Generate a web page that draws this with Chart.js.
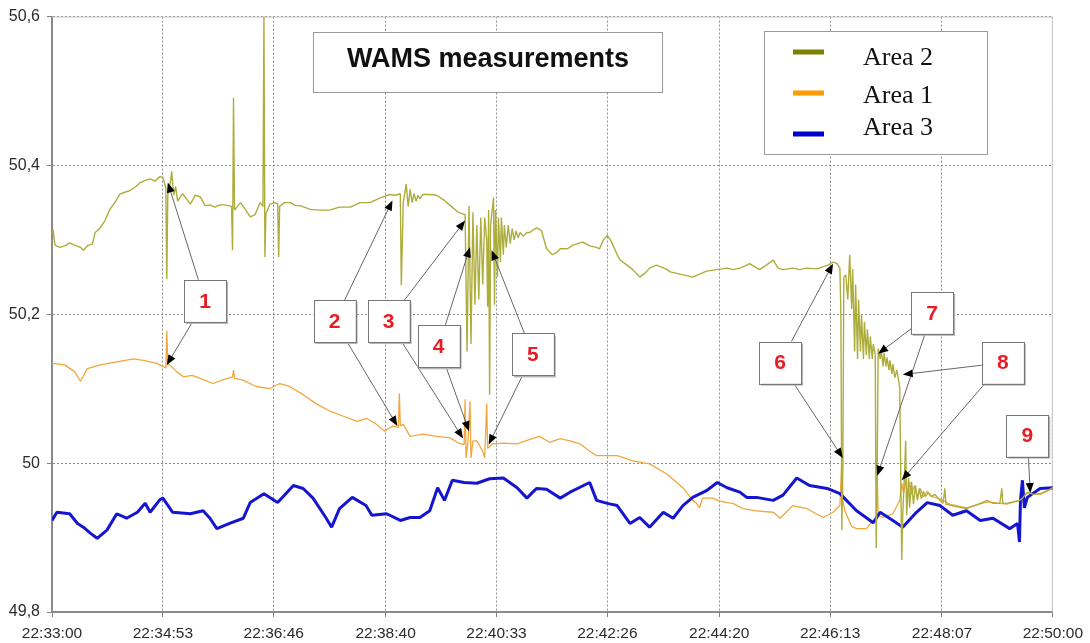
<!DOCTYPE html>
<html>
<head>
<meta charset="utf-8">
<title>WAMS measurements</title>
<script src="https://cdn.jsdelivr.net/npm/chart.js@4.4.1/dist/chart.umd.min.js"></script>
<style>
  html, body { margin: 0; padding: 0; background: #fff; }
  #wrap { width: 1090px; height: 643px; }
</style>
</head>
<body>
<div id="wrap"><canvas id="chart" width="1090" height="643"></canvas></div>
<script>
// Axis labels
const xTickLabels = ['22:33:00', '22:34:53', '22:36:46', '22:38:40', '22:40:33',
                     '22:42:26', '22:44:20', '22:46:13', '22:48:07', '22:50:00'];
const yTickValues = [49.8, 50, 50.2, 50.4, 50.6];
const yTickLabels = ['49,8', '50', '50,2', '50,4', '50,6'];

const seriesNames = ['Area 2', 'Area 1', 'Area 3'];
const lineColors = ['#adad3c', '#f2a63c', '#1515d0'];
const legendColors = ['#7f7f00', '#ff9a00', '#0000cc'];

// Samples: [seconds after 22:33:00, frequency in Hz]
const area2 = [
  [0,50.308],[1,50.314],[3,50.293],[8,50.290],[13,50.292],[18,50.296],[23,50.293],[29,50.290],
  [32,50.286],[37,50.293],[41,50.294],[44,50.310],[49,50.316],[54,50.326],[59,50.341],[64,50.350],
  [69,50.361],[74,50.364],[79,50.366],[85,50.371],[90,50.377],[95,50.380],[100,50.382],[105,50.379],
  [110,50.385],[113,50.384],[116,50.370],[117,50.247],[118,50.360],[121,50.380],[122,50.392],[124,50.360],
  [126,50.372],[128,50.352],[130,50.356],[133,50.362],[136,50.357],[141,50.348],[146,50.360],[151,50.358],
  [156,50.346],[161,50.347],[166,50.344],[171,50.347],[176,50.347],[183,50.345],[184,50.286],[185,50.491],
  [186,50.340],[192,50.350],[197,50.341],[202,50.331],[207,50.334],[212,50.350],[215,50.345],[216,50.600],
  [217,50.277],[218,50.335],[222,50.348],[227,50.350],[230,50.348],[231,50.277],[232,50.345],[237,50.350],
  [243,50.350],[248,50.346],[253,50.346],[263,50.341],[273,50.340],[283,50.340],[293,50.344],[304,50.344],
  [314,50.350],[324,50.350],[334,50.356],[344,50.361],[350,50.360],[355,50.362],[356,50.239],[358,50.350],
  [361,50.375],[363,50.345],[365,50.368],[367,50.350],[369,50.362],[371,50.352],[373,50.360],[375,50.355],
  [378,50.361],[385,50.361],[392,50.360],[400,50.353],[406,50.346],[414,50.337],[421,50.334],[423,50.150],
  [425,50.346],[427,50.160],[429,50.337],[431,50.213],[433,50.320],[435,50.220],[437,50.330],[439,50.240],
  [441,50.330],[443,50.300],[444,50.210],[445,50.340],[446,50.092],[447,50.320],[450,50.357],[451,50.213],
  [452,50.340],[454,50.250],[455,50.330],[457,50.270],[458,50.330],[460,50.280],[461,50.320],[463,50.290],
  [465,50.320],[467,50.295],[469,50.315],[471,50.300],[473,50.312],[475,50.303],[477,50.310],[480,50.305],
  [484,50.310],[487,50.310],[490,50.313],[494,50.316],[497,50.314],[499,50.312],[504,50.288],[507,50.284],
  [510,50.280],[515,50.284],[518,50.288],[525,50.288],[531,50.293],[538,50.296],[541,50.297],[548,50.292],
  [555,50.290],[558,50.288],[562,50.300],[566,50.306],[570,50.298],[576,50.280],[579,50.273],[586,50.266],
  [592,50.260],[599,50.250],[605,50.256],[609,50.262],[616,50.266],[620,50.264],[627,50.260],[630,50.257],
  [640,50.254],[647,50.252],[653,50.250],[660,50.254],[667,50.258],[678,50.260],[688,50.262],[694,50.260],
  [701,50.262],[708,50.266],[711,50.268],[721,50.260],[728,50.266],[735,50.273],[740,50.262],[745,50.260],
  [755,50.262],[762,50.260],[769,50.262],[780,50.261],[786,50.264],[791,50.266],[796,50.270],[800,50.268],
  [803,50.262],[804,50.200],[805,49.910],[806,50.000],[807,50.250],[809,50.253],[811,50.220],[813,50.280],
  [815,50.207],[816,50.261],[818,50.150],[819,50.240],[821,50.140],[822,50.220],[824,50.150],[825,50.200],
  [827,50.140],[828,50.190],[830,50.145],[831,50.180],[833,50.140],[834,50.170],[836,50.140],[837,50.160],
  [839,50.146],[840,49.886],[841,50.000],[842,50.154],[844,50.140],[845,50.152],[847,50.130],[848,50.148],
  [850,50.130],[851,50.142],[853,50.125],[854,50.138],[856,50.120],[857,50.133],[859,50.115],[861,50.125],
  [863,50.110],[864,50.100],[866,49.870],[867,49.930],[869,49.990],[870,50.030],[871,49.930],[873,49.980],
  [874,49.940],[876,49.975],[878,49.945],[880,49.970],[882,49.950],[884,49.966],[886,49.952],[888,49.962],
  [890,49.955],[893,49.960],[896,49.955],[900,49.958],[905,49.950],[908,49.946],[910,49.966],[911,49.945],
  [920,49.942],[932,49.939],[940,49.943],[946,49.946],[953,49.950],[959,49.946],[966,49.946],[968,49.966],
  [969,49.946],[973,49.946],[986,49.950],[989,49.953],[994,49.961],[1000,49.958],[1007,49.959],[1013,49.962],
  [1020,49.967]
];

const area1 = [
  [0,50.134],[13,50.132],[23,50.123],[29,50.110],[36,50.127],[49,50.132],[66,50.136],[83,50.140],
  [93,50.138],[107,50.134],[113,50.130],[116,50.128],[117,50.178],[118,50.132],[120,50.132],[127,50.123],
  [134,50.116],[143,50.118],[151,50.114],[164,50.107],[174,50.112],[184,50.116],[185,50.125],[186,50.114],
  [194,50.112],[208,50.103],[222,50.100],[232,50.107],[242,50.103],[256,50.092],[269,50.080],[283,50.070],
  [297,50.063],[311,50.056],[321,50.060],[331,50.052],[339,50.043],[347,50.050],[353,50.048],[354,50.094],
  [355,50.050],[358,50.052],[365,50.036],[378,50.039],[392,50.036],[406,50.034],[414,50.027],[420,50.025],
  [421,50.086],[422,50.007],[424,50.030],[426,50.083],[427,50.007],[429,50.030],[433,50.030],[439,50.016],
  [441,50.007],[443,50.080],[444,50.020],[449,50.026],[460,50.027],[474,50.026],[487,50.032],[497,50.036],
  [507,50.028],[518,50.033],[528,50.030],[538,50.026],[548,50.016],[555,50.010],[566,50.010],[576,50.010],
  [592,50.003],[609,49.999],[627,49.985],[643,49.967],[653,49.950],[657,49.946],[660,49.940],[663,49.953],
  [674,49.953],[678,49.950],[688,49.947],[694,49.946],[704,49.939],[718,49.936],[735,49.934],[742,49.926],
  [755,49.943],[769,49.939],[786,49.927],[796,49.934],[803,49.943],[805,50.005],[806,49.950],[808,49.936],
  [815,49.915],[820,49.912],[830,49.912],[837,49.923],[840,49.925],[841,49.985],[842,49.930],[847,49.927],
  [857,49.932],[864,49.950],[866,49.973],[868,49.960],[870,49.978],[872,49.955],[874,49.975],[876,49.958],
  [879,49.970],[882,49.955],[885,49.966],[888,49.955],[892,49.962],[897,49.955],[905,49.952],[915,49.945],
  [932,49.940],[953,49.948],[973,49.945],[986,49.950],[994,49.960],[1007,49.958],[1020,49.966]
];

const area3 = [
  [0,49.923],[5,49.934],[18,49.932],[26,49.919],[32,49.914],[39,49.906],[46,49.899],[56,49.910],
  [66,49.932],[76,49.926],[87,49.934],[95,49.946],[100,49.934],[110,49.951],[113,49.953],[123,49.934],
  [141,49.932],[154,49.936],[161,49.926],[168,49.912],[181,49.919],[195,49.926],[202,49.947],[216,49.959],
  [230,49.947],[246,49.970],[256,49.966],[266,49.953],[279,49.927],[285,49.914],[293,49.939],[306,49.954],
  [320,49.943],[326,49.930],[341,49.932],[355,49.923],[365,49.927],[375,49.927],[385,49.936],[393,49.967],
  [400,49.950],[408,49.977],[420,49.974],[433,49.973],[446,49.979],[460,49.980],[474,49.967],[484,49.953],
  [490,49.961],[494,49.966],[504,49.965],[518,49.953],[528,49.961],[548,49.974],[555,49.950],[566,49.946],
  [576,49.943],[589,49.919],[599,49.927],[609,49.914],[623,49.934],[633,49.926],[643,49.943],[653,49.954],
  [667,49.963],[678,49.974],[688,49.967],[701,49.961],[708,49.954],[718,49.954],[735,49.950],[745,49.957],
  [759,49.980],[772,49.970],[790,49.966],[803,49.959],[820,49.936],[837,49.920],[844,49.934],[857,49.923],
  [867,49.914],[881,49.934],[892,49.947],[905,49.943],[918,49.930],[932,49.936],[946,49.923],[959,49.926],
  [976,49.912],[984,49.919],[986,49.894],[987,49.950],[989,49.977],[991,49.940],[994,49.954],[1007,49.966],
  [1020,49.967]
];

// Numbered callouts: box centre and arrow tips, in [seconds, Hz]
const callouts = [
  { text: '1', box: [156, 50.218], tips: [[118, 50.377], [117, 50.132]] },
  { text: '2', box: [288, 50.191], tips: [[347, 50.353], [352, 50.050]] },
  { text: '3', box: [343, 50.191], tips: [[421, 50.326], [419, 50.033]] },
  { text: '4', box: [394, 50.157], tips: [[426, 50.290], [425, 50.043]] },
  { text: '5', box: [490, 50.146], tips: [[448, 50.286], [445, 50.025]] },
  { text: '6', box: [742, 50.135], tips: [[796, 50.268], [806, 50.007]] },
  { text: '7', box: [897, 50.202], tips: [[842, 50.147], [841, 49.983]] },
  { text: '8', box: [969, 50.135], tips: [[867, 50.119], [866, 49.977]] },
  { text: '9', box: [994, 50.037], tips: [[997, 49.960]] }
];

function toSeconds(label) {
    const parts = label.split(':').map(Number);
    return parts[0] * 3600 + parts[1] * 60 + parts[2];
}
const startSec = toSeconds(xTickLabels[0]);
const endSec = toSeconds(xTickLabels[xTickLabels.length - 1]) - startSec;

function toPoints(rows) {
    return rows.map(r => ({ x: r[0], y: r[1] }));
}

// Frame, title box, legend and callouts
const overlayPlugin = {
    id: 'overlay',
    beforeDatasetsDraw(chart) {
        const { ctx, chartArea: a } = chart;
        ctx.save();
        ctx.strokeStyle = '#c9c9c9';
        ctx.lineWidth = 1;
        ctx.beginPath();
        ctx.moveTo(a.left, a.top + 0.5);
        ctx.lineTo(a.right - 0.5, a.top + 0.5);
        ctx.lineTo(a.right - 0.5, a.bottom);
        ctx.stroke();
        ctx.restore();
    },
    afterDatasetsDraw(chart) {
        const { ctx } = chart;
        const xs = chart.scales.x, ys = chart.scales.y;
        ctx.save();

        // title box
        ctx.fillStyle = '#fff';
        ctx.strokeStyle = '#9a9a9a';
        ctx.lineWidth = 1;
        ctx.fillRect(313, 32, 349, 60);
        ctx.strokeRect(313.5, 32.5, 349, 60);
        ctx.fillStyle = '#111';
        ctx.font = 'bold 27px "Liberation Sans", Arial, sans-serif';
        ctx.textAlign = 'center';
        ctx.textBaseline = 'alphabetic';
        ctx.fillText('WAMS measurements', 488, 67);

        // legend box
        ctx.fillStyle = '#fff';
        ctx.fillRect(764, 31, 223, 123);
        ctx.strokeRect(764.5, 31.5, 223, 123);
        const swatchY = [52, 93, 134];
        const textY = [65, 103, 135];
        ctx.font = '26px "Liberation Serif", "Times New Roman", serif';
        ctx.textAlign = 'left';
        seriesNames.forEach((name, i) => {
            ctx.fillStyle = legendColors[i];
            ctx.fillRect(793, swatchY[i] - 2.5, 31, 5);
            ctx.fillStyle = '#111';
            ctx.fillText(name, 863, textY[i]);
        });

        // callouts
        const half = 21;
        callouts.forEach(c => {
            const cx = xs.getPixelForValue(c.box[0]);
            const cy = ys.getPixelForValue(c.box[1]);
            c.tips.forEach(tip => {
                const tx = xs.getPixelForValue(tip[0]);
                const ty = ys.getPixelForValue(tip[1]);
                const dx = tx - cx, dy = ty - cy;
                const s = Math.min(half / Math.abs(dx || 1e-6), half / Math.abs(dy || 1e-6));
                const sx = cx + dx * s, sy = cy + dy * s;
                const ang = Math.atan2(ty - sy, tx - sx);
                ctx.strokeStyle = '#666';
                ctx.lineWidth = 1;
                ctx.beginPath();
                ctx.moveTo(sx, sy);
                ctx.lineTo(tx - Math.cos(ang) * 6, ty - Math.sin(ang) * 6);
                ctx.stroke();
                ctx.fillStyle = '#000';
                ctx.beginPath();
                ctx.moveTo(tx, ty);
                ctx.lineTo(tx - Math.cos(ang) * 10 - Math.sin(ang) * 4, ty - Math.sin(ang) * 10 + Math.cos(ang) * 4);
                ctx.lineTo(tx - Math.cos(ang) * 10 + Math.sin(ang) * 4, ty - Math.sin(ang) * 10 - Math.cos(ang) * 4);
                ctx.closePath();
                ctx.fill();
            });
            ctx.fillStyle = '#b5b5b5';
            ctx.fillRect(cx - half + 2, cy - half + 2, half * 2, half * 2);
            ctx.fillStyle = '#fff';
            ctx.fillRect(cx - half, cy - half, half * 2, half * 2);
            ctx.strokeStyle = '#777';
            ctx.strokeRect(Math.round(cx - half) + 0.5, Math.round(cy - half) + 0.5, half * 2, half * 2);
            ctx.fillStyle = '#e81c24';
            ctx.font = 'bold 21px "Liberation Sans", Arial, sans-serif';
            ctx.textAlign = 'center';
            ctx.textBaseline = 'middle';
            ctx.fillText(c.text, cx, cy + 1);
        });
        ctx.restore();
    }
};

const lineDefaults = { pointRadius: 0, tension: 0, fill: false, borderJoinStyle: 'bevel' };

const chart = new Chart(document.getElementById('chart').getContext('2d'), {
    type: 'line',
    data: {
        datasets: [
            Object.assign({ label: seriesNames[0], data: toPoints(area2), borderColor: lineColors[0], borderWidth: 1.4, order: 0 }, lineDefaults),
            Object.assign({ label: seriesNames[1], data: toPoints(area1), borderColor: lineColors[1], borderWidth: 1.3, order: 2 }, lineDefaults),
            Object.assign({ label: seriesNames[2], data: toPoints(area3), borderColor: lineColors[2], borderWidth: 3, order: 1 }, lineDefaults)
        ]
    },
    options: {
        responsive: false,
        animation: false,
        devicePixelRatio: 1,
        layout: { padding: { top: 14, right: 37, bottom: 0, left: 0 } },
        plugins: {
            legend: { display: false },
            tooltip: { enabled: false }
        },
        scales: {
            x: {
                type: 'linear',
                min: 0,
                max: endSec,
                afterBuildTicks: s => { s.ticks = xTickLabels.map(l => ({ value: toSeconds(l) - startSec })); },
                afterFit: s => { s.height = 31; },
                ticks: {
                    autoSkip: false,
                    maxRotation: 0,
                    padding: 7,
                    color: '#2b2b2b',
                    font: { family: '"Liberation Sans", Arial, sans-serif', size: 15.5 },
                    callback: (v, i) => xTickLabels[i]
                },
                grid: { color: '#8c8c8c', lineWidth: 1, tickLength: 5, tickColor: '#808080', tickBorderDash: [] },
                border: { color: '#8a8a8a', width: 2, dash: [2, 2] }
            },
            y: {
                min: yTickValues[0],
                max: yTickValues[yTickValues.length - 1],
                afterBuildTicks: s => { s.ticks = yTickValues.map(v => ({ value: v })); },
                afterFit: s => { s.width = 52; },
                ticks: {
                    padding: 7,
                    color: '#2b2b2b',
                    font: { family: '"Liberation Sans", Arial, sans-serif', size: 16 },
                    callback: (v, i) => yTickLabels[i]
                },
                grid: { color: '#8c8c8c', lineWidth: 1, tickLength: 5, tickColor: '#808080', tickBorderDash: [] },
                border: { color: '#8a8a8a', width: 2, dash: [2, 2] }
            }
        }
    },
    plugins: [overlayPlugin]
});
</script>
</body>
</html>
